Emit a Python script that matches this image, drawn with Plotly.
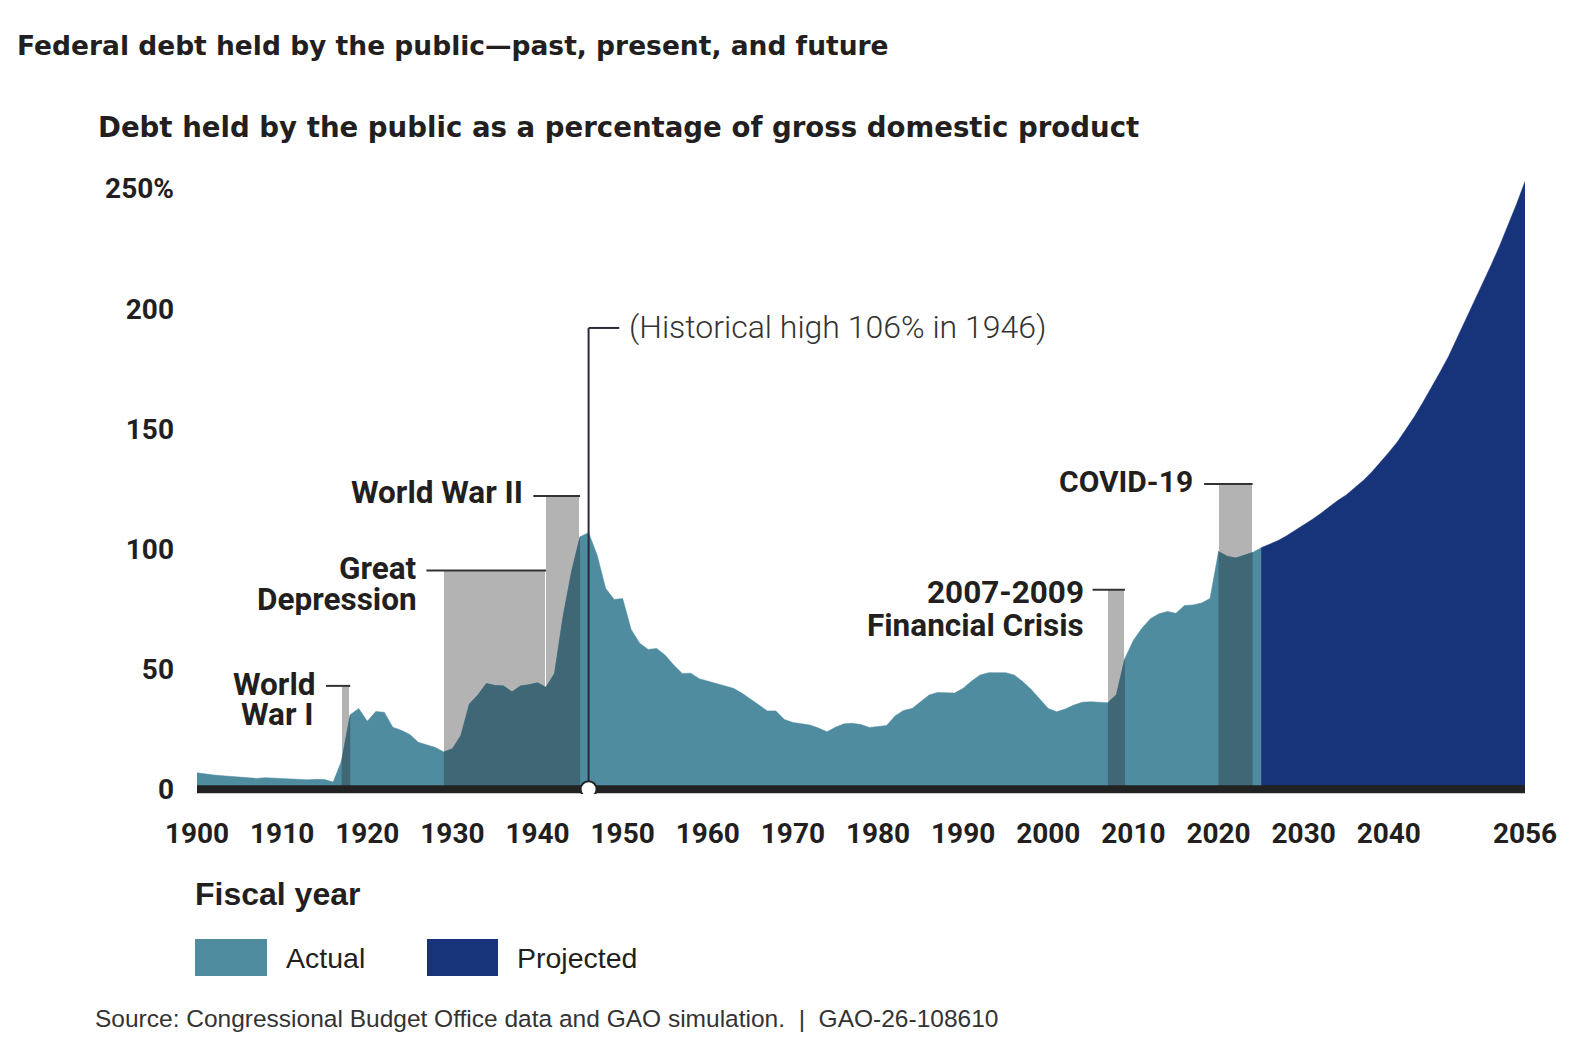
import plotly.graph_objects as go

# ---------------- data ----------------
actual_years = list(range(1900, 2026))
actual_values = [
    6.8, 6.2, 5.9, 5.6, 5.3, 5.1, 4.8, 4.5, 4.8, 4.6,      # 1900-1909
    4.3, 4.2, 4.1, 3.9, 4.1, 4.0, 3.0, 12.0, 31.0, 33.6,   # 1910-1919
    28.3, 32.3, 32.0, 25.8, 24.5, 22.8, 19.5, 18.5, 17.4, 15.5,  # 1920-1929
    16.8, 22.3, 35.5, 39.2, 44.0, 43.2, 43.0, 40.5, 43.0, 43.5,  # 1930-1939
    44.3, 42.4, 48.2, 71.8, 90.5, 105.1, 106.8, 97.5, 83.6, 79.0,  # 1940-1949
    79.4, 66.5, 60.8, 58.2, 58.6, 55.8, 51.7, 48.2, 48.3, 46.0,  # 1950-1959
    45.0, 44.0, 43.0, 42.0, 40.0, 37.5, 35.0, 32.6, 32.6, 29.0,  # 1960-1969
    27.8, 27.2, 26.7, 25.5, 23.9, 25.8, 27.2, 27.4, 26.9, 25.7,  # 1970-1979
    26.0, 26.5, 30.5, 32.8, 33.6, 36.5, 39.2, 40.3, 40.2, 40.0,  # 1980-1989
    42.0, 45.0, 47.5, 48.5, 48.5, 48.5, 47.5, 44.8, 41.5, 37.5,  # 1990-1999
    33.6, 32.2, 33.4, 35.0, 36.2, 36.4, 36.2, 36.0, 39.3, 54.4,  # 2000-2009
    62.0, 67.0, 71.0, 73.0, 74.0, 73.2, 76.5, 76.7, 77.5, 79.4,  # 2010-2019
    98.9, 97.0, 96.2, 97.2, 98.5, 100.5,                        # 2020-2025
]
projected_years = list(range(2025, 2057))
projected_values = [
    100.5, 102.0, 103.5, 105.5, 107.7, 110.0, 112.3, 114.8, 117.5, 120.2,  # 2025-2034
    122.5, 125.3, 128.5, 132.0, 136.0, 140.2, 144.5, 149.5, 155.0, 161.0,  # 2035-2044
    167.0, 173.5, 180.0, 187.5, 195.0, 202.5, 210.0, 218.0, 226.0, 234.5,  # 2045-2054
    243.5, 253.0,                                                          # 2055-2056
]

event_names = ["World War I", "Great Depression", "World War II",
               "2007-2009 Financial Crisis", "COVID-19"]
event_start = [1917, 1929, 1941, 2007, 2020]
event_end = [1918, 1941, 1945, 2009, 2024]
event_top = [43, 91, 122, 83, 127]

peak_year = 1946
peak_label = "(Historical high 106% in 1946)"

x_tickvals = [1900, 1910, 1920, 1930, 1940, 1950, 1960, 1970, 1980,
              1990, 2000, 2010, 2020, 2030, 2040, 2056]
x_ticktext = [str(v) for v in x_tickvals]
y_tickvals = [0, 50, 100, 150, 200, 250]
y_ticktext = ["0", "50", "100", "150", "200", "250%"]

# ---------------- style / layout ----------------
OFF = 8                      # page body margin
W, H = 1578 - 2 * OFF, 1042 - 2 * OFF
ML, MR, MT, MB = 189, 45, 171, 240
PW, PH = W - ML - MR, H - MT - MB
TEAL = "#4f8ca0"
DARK_TEAL = "#3f6775"
GRAY = "#b3b3b3"
NAVY = "#17337a"
INK = "#231f20"
X_RANGE = [1900, 2056]
Y_RANGE = [-2, 254]


def px(xp):
    return (xp - OFF - ML) / PW


def py(yp):
    return (H - MB - (yp - OFF)) / PH


fig = go.Figure()

# gray event bars
fig.add_trace(go.Bar(
    x=[(s + e) / 2 for s, e in zip(event_start, event_end)],
    y=event_top,
    width=[e - s for s, e in zip(event_start, event_end)],
    marker=dict(color=GRAY, line=dict(color="white", width=1)),
    hoverinfo="skip", showlegend=False,
))

# actual area
fig.add_trace(go.Scatter(
    x=actual_years, y=actual_values, mode="lines", fill="tozeroy",
    fillcolor=TEAL, line=dict(color=TEAL, width=0.5), showlegend=False,
))

# darker overlap of actual within event bars
for s, e in zip(event_start, event_end):
    xs = [yr for yr in actual_years if s <= yr <= e]
    ys = [v for yr, v in zip(actual_years, actual_values) if s <= yr <= e]
    fig.add_trace(go.Scatter(
        x=xs, y=ys, mode="lines", fill="tozeroy", fillcolor=DARK_TEAL,
        line=dict(color=DARK_TEAL, width=0.5), showlegend=False,
    ))

# projected area
fig.add_trace(go.Scatter(
    x=projected_years, y=projected_values, mode="lines", fill="tozeroy",
    fillcolor=NAVY, line=dict(color=NAVY, width=0.5), showlegend=False,
))

shapes = []
# baseline
shapes.append(dict(type="line", xref="x", yref="y", x0=X_RANGE[0], x1=X_RANGE[1],
                   y0=0, y1=0, line=dict(color="#222222", width=8), layer="above"))

# leader lines for event labels (start x positions in years)
leader_start = [1915.15, 1926.95, 1939.5, 2005.2, 2018.3]
for ls, e, t in zip(leader_start, event_end, event_top):
    shapes.append(dict(type="line", xref="x", yref="y", x0=ls, x1=e, y0=t, y1=t,
                       line=dict(color="#333333", width=2), layer="above"))

# historical-high leader
peak_line_top = 192
peak_line_end = 1949.6
shapes.append(dict(type="line", xref="x", yref="y", x0=peak_year, x1=peak_year,
                   y0=0, y1=peak_line_top, line=dict(color="#2a2a3a", width=2), layer="above"))
shapes.append(dict(type="line", xref="x", yref="y", x0=peak_year, x1=peak_line_end,
                   y0=peak_line_top, y1=peak_line_top, line=dict(color="#2a2a3a", width=2),
                   layer="above"))
# circle marker at the peak year on the baseline
shapes.append(dict(type="circle", xref="x", yref="y", xsizemode="pixel", ysizemode="pixel",
                   xanchor=peak_year, yanchor=0, x0=-8, x1=8, y0=-8, y1=8,
                   fillcolor="white", line=dict(color="#222222", width=2), layer="above"))

# legend swatches
shapes.append(dict(type="rect", xref="paper", yref="paper", x0=px(195), x1=px(267),
                   y0=py(976), y1=py(939), fillcolor=TEAL, line=dict(width=0)))
shapes.append(dict(type="rect", xref="paper", yref="paper", x0=px(427), x1=px(498),
                   y0=py(976), y1=py(939), fillcolor=NAVY, line=dict(width=0)))

annotations = []


def note(text, x, y, anchor="left", size=28, family="Roboto", weight="bold",
         color=INK, height=None):
    a = dict(
        text=text, xref="paper", yref="paper", x=px(x), y=py(y),
        xanchor=anchor, yanchor="middle", showarrow=False,
        font=dict(family=family, size=size, color=color, weight=weight),
    )
    if height is not None:
        a["height"] = height
        a["valign"] = "middle"
    annotations.append(a)


note("Federal debt held by the public\u2014past, present, and future", 15, 45,
     size=26.5, family="DejaVu Sans")
note("Debt held by the public as a percentage of gross domestic product", 96, 127,
     size=27.6, family="DejaVu Sans")

LBL = 31.5
note("World War II", 525, 493, anchor="right", size=LBL)
note("Great", 419, 568, anchor="right", size=LBL, height=31)
note("Depression", 419, 599, anchor="right", size=LBL, height=31)
note("World", 317, 684, anchor="right", size=LBL, height=31)
note("War I", 316, 714, anchor="right", size=LBL, height=31)
note("2007-2009", 1086, 592, anchor="right", size=LBL, height=31)
note("Financial Crisis", 1086, 625, anchor="right", size=LBL, height=31)
note("COVID-19", 1195, 481, anchor="right", size=30)
note(peak_label, 627, 327, size=32, weight=300, color="#333333")

note("Fiscal year", 193, 894, size=32, family="Liberation Sans")
note("Actual", 284, 958, size=28.5, family="Liberation Sans", weight="normal")
note("Projected", 515, 958, size=28.5, family="Liberation Sans", weight="normal")
note("Source: Congressional Budget Office data and GAO simulation.  |  GAO-26-108610",
     93, 1018, size=24.5, family="Liberation Sans", weight="normal", color="#333333")

fig.update_layout(
    width=W, height=H,
    margin=dict(l=ML, r=MR, t=MT, b=MB, pad=0),
    paper_bgcolor="white", plot_bgcolor="white",
    showlegend=False, barmode="overlay", bargap=0,
    shapes=shapes, annotations=annotations,
    xaxis=dict(range=X_RANGE, tickvals=x_tickvals, ticktext=x_ticktext,
               showgrid=False, zeroline=False, showline=False, ticks="",
               ticklabelstandoff=20,
               tickfont=dict(family="Roboto", size=28, color=INK, weight="bold")),
    yaxis=dict(range=Y_RANGE, tickvals=y_tickvals, ticktext=y_ticktext,
               showgrid=False, zeroline=False, showline=False, ticks="",
               ticklabelstandoff=22,
               tickfont=dict(family="Roboto", size=28, color=INK, weight="bold")),
)

fig.write_html("out.html")
